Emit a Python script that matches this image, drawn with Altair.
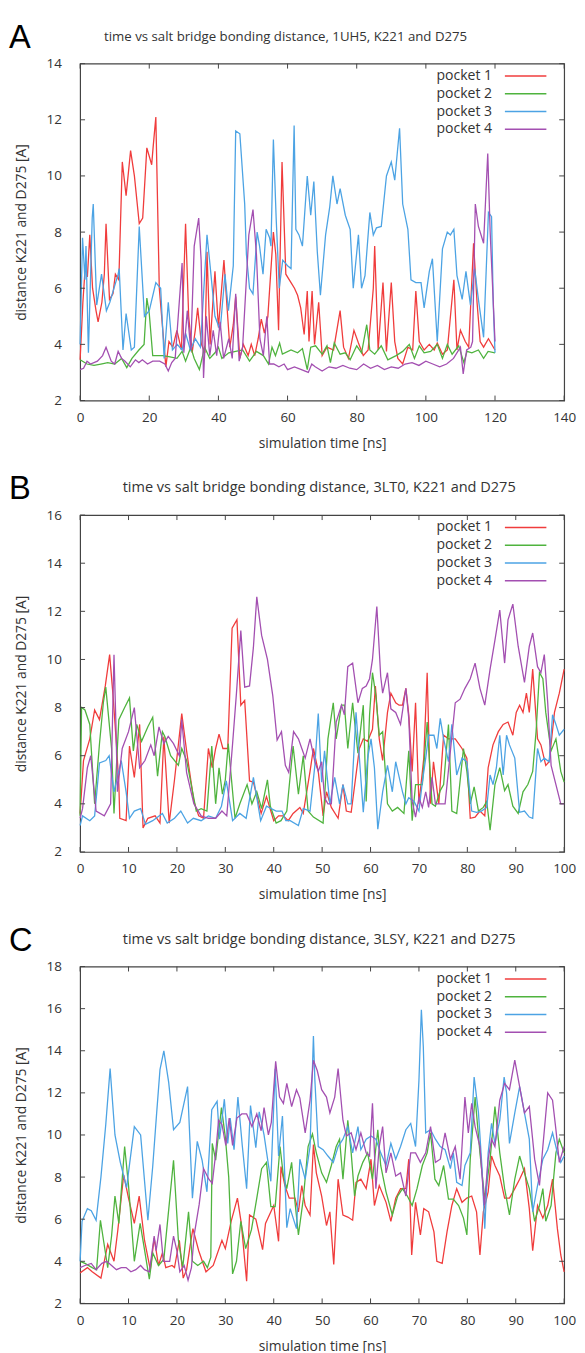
import altair as alt
import pandas as pd

SERIES = ["pocket 1", "pocket 2", "pocket 3", "pocket 4"]
COLORS = ["#f03c3c", "#4fb33e", "#4ca3e4", "#a34fb1"]
FONT = "Open Sans"
TXT = "#333333"
W, H = 490, 341

# ---------------- Panel A : 1UH5 ----------------
A_TITLE = "time vs salt bridge bonding distance, 1UH5, K221 and D275"
A_XTICKS = [0, 20, 40, 60, 80, 100, 120, 140]
A_YTICKS = [2, 4, 6, 8, 10, 12, 14]
A_P1 = [(0,3.45),(0.8,5.5),(1.5,6.8),(2.1,6.4),(2.8,7.9),(3.6,6.0),(4.6,5.2),(5.2,4.8),(6.3,5.5),(7,6.5),(7.5,8.3),(8.5,5.6),(9.5,5.8),(10.2,6.5),(11.2,6.3),(12.2,10.5),(13.3,9.3),(14.6,10.9),(15.7,10.0),(17.1,8.3),(18.1,8.5),(19.3,11.0),(20.7,10.4),(21.1,11.0),(21.9,12.1),(22.9,6.0),(24.8,3.2),(25.7,4.1),(26.8,3.9),(28,4.5),(29.3,3.8),(30.5,8.3),(31.4,5.0),(32.4,3.7),(33.3,4.5),(34,5.3),(35.1,4.0),(36.1,3.7),(36.7,7.3),(37.6,4.0),(39,6.6),(40,4.6),(41.6,7.0),(42.4,5.5),(43.3,3.9),(44.3,4.7),(45,5.7),(46.2,3.5),(47.2,4.0),(48.6,3.6),(49.5,4.0),(50.5,3.6),(51.5,4.2),(52.4,4.9),(53.3,4.4),(54.3,5.0),(55.9,8.0),(56.6,7.2),(57.4,4.5),(58.4,10.5),(59.5,6.5),(61,6.2),(62,6.0),(62.9,5.75),(63.8,5.3),(64.8,4.35),(65.7,5.9),(66.2,4.1),(67.1,5.9),(67.8,4.0),(69,5.5),(70,3.6),(71.4,3.9),(73.3,3.8),(75.2,5.2),(76.2,3.9),(77.6,3.5),(79.2,4.5),(80.5,4.05),(81.9,3.6),(83.3,3.8),(84.8,6.0),(85.2,7.5),(86.2,3.8),(87.6,6.2),(88.6,3.75),(90,6.2),(91,4.1),(91.9,3.5),(93.3,3.3),(94.8,3.9),(96.2,3.8),(97.1,5.9),(98.1,4.1),(99.5,3.8),(101,4.0),(102.4,3.8),(103.3,4.05),(104.8,3.65),(106.2,3.8),(108.1,6.3),(109,3.8),(110,4.5),(111.4,4.1),(112.4,3.9),(113.8,7.6),(114.8,5.5),(115.7,4.1),(116.7,3.9),(118.1,4.2),(120,3.8)]
A_P2 = [(0,3.45),(2,3.3),(4,3.25),(6,3.3),(8,3.35),(10,3.3),(12,3.5),(13.5,3.17),(15,3.5),(17,3.8),(18.5,4.0),(19.3,5.65),(20,5.1),(21,3.6),(24,3.6),(26,3.55),(28,3.5),(29.5,3.75),(30.5,3.4),(32,3.9),(33,3.5),(34.5,3.1),(36,3.9),(37.5,3.5),(39,3.7),(40,3.9),(41,3.5),(43,3.7),(45,3.75),(47,3.8),(49,3.4),(51,3.75),(53,3.6),(54.5,3.3),(55.5,3.9),(56.5,3.6),(57.7,4.05),(58.5,3.65),(61,3.8),(62.9,3.7),(64.3,3.85),(65.7,3.1),(66.7,3.9),(68.1,3.95),(70,3.65),(71.4,3.95),(72.4,3.35),(73.5,4.05),(75.2,3.65),(76.7,3.7),(78.1,3.45),(80,3.95),(81.4,3.7),(82.9,4.7),(83.8,3.8),(85.2,3.65),(87.1,3.95),(89,3.45),(91.4,3.6),(93.3,3.75),(95.2,4.0),(96.7,3.5),(98.1,3.95),(99.5,3.7),(101.4,3.75),(103.3,4.0),(104.8,3.5),(106.2,4.0),(107.6,3.65),(109.5,3.95),(111,3.35),(111.9,3.75),(113.3,3.7),(115.2,3.8),(116.7,3.5),(118,3.75),(120,3.7)]
A_P3 = [(0,4.0),(0.7,7.8),(1.4,6.3),(1.7,7.5),(2.4,3.7),(3.5,8.5),(3.8,9.0),(4.8,5.4),(6.2,6.5),(7.6,5.2),(8.6,5.5),(11,6.5),(11.3,6.7),(12.4,3.8),(13.3,5.1),(14.8,3.8),(15.7,3.9),(17.1,8.2),(18.6,5.0),(20,5.2),(21.9,6.2),(23.3,6.0),(24.3,3.5),(25.5,5.5),(26.7,3.8),(28.1,4.0),(29.5,3.8),(30.5,4.4),(31.9,3.8),(33.3,4.2),(34.8,3.9),(36.7,7.9),(37.6,6.8),(39,5.0),(40.5,4.5),(41.9,6.5),(42.9,5.2),(44.3,6.8),(45,11.6),(46.2,11.5),(47.6,9.0),(48.1,7.2),(49,6.0),(50,5.8),(51.2,8.0),(51.9,7.5),(52.9,6.5),(53.8,8.1),(54.8,7.8),(55.2,7.5),(55.9,11.3),(56.7,8.5),(57.6,6.0),(58.6,7.0),(60,6.8),(61,6.7),(61.9,11.8),(62.4,8.1),(63.3,7.9),(64.3,7.5),(65.7,10.0),(66.7,8.6),(67.6,9.8),(68.6,7.3),(69.5,5.75),(71,7.9),(72.2,8.9),(73.1,10.0),(74.3,9.0),(75.2,9.55),(76.7,8.6),(78.1,8.1),(79,6.0),(80.5,7.9),(81.4,6.0),(82.4,6.45),(83.8,8.7),(84.8,7.9),(85.7,8.15),(87.1,8.2),(88.6,10.0),(90,10.5),(91,9.85),(92.4,11.7),(93.3,9.0),(94.8,8.1),(95.7,6.3),(97.1,6.2),(98.6,6.2),(99.5,5.3),(101,6.6),(101.9,7.05),(103.3,4.1),(104.8,7.4),(106.2,8.0),(107.1,7.9),(108.1,8.1),(109,6.45),(110.5,5.6),(111.6,6.6),(112.9,5.4),(114.1,6.7),(115.2,5.6),(116.7,4.25),(118.1,8.7),(119,8.55),(119.5,5.4),(120,3.7)]
A_P4 = [(0,3.1),(1,3.15),(2,3.4),(3,3.3),(5,3.4),(6.5,3.6),(7.5,3.9),(9,3.4),(10,3.3),(11,3.75),(12,3.5),(13,3.4),(14.5,3.2),(16,3.45),(17,3.35),(18,3.45),(19.5,3.3),(21,3.4),(23,3.4),(24.5,3.3),(25.5,3.05),(26.5,3.35),(27.5,3.5),(29.5,6.9),(30,3.7),(31,5.2),(32,3.8),(33,7.5),(34.3,8.5),(35,7.0),(35.7,2.8),(36.5,5.0),(37.5,3.6),(38.5,4.5),(39.5,3.6),(40.5,4.8),(41.5,3.5),(43,4.2),(44,3.5),(45,5.8),(46,3.4),(47,3.9),(48.8,7.9),(50,8.8),(51,7.2),(52,4.2),(53,3.6),(54,5.0),(54.8,3.3),(56,3.3),(57.5,3.2),(59,3.3),(60,3.1),(62,3.2),(64,3.1),(66,3.0),(67,3.3),(68,3.2),(70,3.05),(72,3.2),(74,3.15),(76,3.25),(78,3.15),(80,3.1),(82,3.3),(84,3.15),(86,3.25),(88,3.1),(90,3.2),(92,3.15),(94,3.3),(96,3.35),(98,3.25),(100,3.4),(102,3.3),(104,3.2),(106,3.3),(108,3.5),(110,3.9),(110.8,2.95),(111.8,3.8),(113,3.9),(113.5,4.1),(114.3,9.0),(115.2,8.2),(116.7,7.6),(117.9,10.8),(118.6,8.0),(120,4.1)]

# ---------------- Panel B : 3LT0 ----------------
B_TITLE = "time vs salt bridge bonding distance, 3LT0, K221 and D275"
B_XTICKS = [0, 10, 20, 30, 40, 50, 60, 70, 80, 90, 100]
B_YTICKS = [2, 4, 6, 8, 10, 12, 14, 16]
B_P1 = [(0,3.6),(0.7,5.8),(2,6.7),(3,7.9),(4,7.5),(5.2,8.9),(6.1,10.2),(6.8,8.5),(7.5,6.5),(8,4.8),(8.2,3.4),(9.5,3.3),(10.2,6.4),(11.2,5.1),(12.3,7.3),(13,3.0),(14,3.4),(15.5,3.5),(16.5,3.2),(17.3,6.8),(18.4,3.2),(19.5,5.0),(21,7.75),(22,6.2),(23.5,4.1),(24.5,3.5),(25.5,3.4),(26.5,6.3),(27.3,5.5),(28,6.3),(28.7,6.9),(29.5,6.3),(30.5,6.3),(31.4,11.3),(32.4,11.65),(33.2,8.1),(34,8.3),(35,4.95),(35.8,4.9),(37.4,3.6),(38.5,4.3),(40,3.3),(41,3.5),(42,3.5),(43,3.3),(44,3.6),(45.4,3.85),(46.1,3.6),(47.5,5.35),(48.2,6.3),(49.2,5.35),(50.2,3.5),(50.9,4.5),(51.9,3.85),(53.3,3.4),(54.3,4.8),(55,3.7),(56,3.65),(57.7,6.3),(58.5,6.7),(59.4,6.6),(60.4,7.1),(61,8.9),(61.8,6.7),(62.5,5.8),(63.5,7.8),(64.2,8.6),(65.2,8.2),(65.9,8.1),(66.6,8.1),(67.3,8.8),(67.9,7.7),(68.6,5.35),(69.3,8.2),(70,4.0),(71,5.9),(71.7,9.45),(72.4,4.0),(73,5.75),(74.1,4.0),(75.1,6.85),(76.1,6.7),(77.5,6.7),(78.9,6.3),(79.9,5.9),(80.6,3.4),(81.6,3.45),(82.6,3.7),(83.6,3.5),(84.3,5.5),(85.3,6.45),(86.4,7.0),(87.4,7.3),(88.4,7.4),(89.4,6.85),(90.1,7.8),(90.8,8.1),(91.5,7.8),(92.2,8.6),(92.8,7.8),(93.5,9.6),(94.5,6.7),(95.2,6.45),(96.2,5.6),(96.9,5.75),(98,7.8),(99,8.6),(100,9.6)]
B_P2 = [(0,3.5),(0.3,8.0),(1,7.9),(2,7.3),(3,4.0),(4,6.5),(4.8,8.2),(5.3,8.85),(6.5,6.3),(7,3.6),(8,7.5),(9.2,8.0),(10.2,8.4),(11,6.2),(11.7,7.3),(12.7,6.6),(14,7.2),(15,7.6),(16,5.15),(17,7.0),(17.5,6.8),(18.7,6.0),(20.3,5.6),(21,6.3),(22,5.8),(24,3.7),(25,3.8),(26.2,3.7),(27.2,6.4),(28,4.0),(28.7,5.5),(29.4,4.4),(30,5.0),(30.6,6.5),(32,3.4),(33,4.0),(34.5,4.8),(35.5,4.0),(36.5,4.5),(37.5,3.8),(38.7,5.0),(39.3,3.9),(40.5,3.2),(41.5,3.3),(42.7,3.7),(44,6.4),(45.1,4.4),(46.1,6.0),(47.1,3.7),(48.2,3.45),(50.2,3.2),(51.2,6.7),(52.3,8.2),(52.9,6.7),(54,8.1),(54.6,8.1),(55.3,6.3),(56.3,8.2),(57.4,6.1),(58.5,8.1),(59.1,4.1),(59.8,7.7),(60.4,9.45),(61.1,8.5),(61.8,6.85),(62.5,7.0),(63.5,4.0),(64.5,3.7),(65.6,3.85),(66.9,3.6),(67.9,6.2),(68.6,3.3),(69.3,4.8),(70.7,4.8),(71.7,7.4),(72.7,4.0),(73.4,3.9),(74.4,4.55),(75.1,4.8),(76.1,7.3),(76.8,3.7),(77.8,3.6),(79.2,6.3),(79.9,5.35),(80.6,4.0),(81.4,4.7),(82.3,3.7),(83.3,3.85),(84,4.1),(84.7,2.9),(85.7,4.8),(86.7,5.5),(87.7,4.55),(88.4,4.8),(89.4,3.9),(90.5,3.6),(91.5,4.5),(92.5,4.8),(93.5,5.35),(94.2,7.0),(94.9,9.45),(95.6,9.2),(96.2,7.8),(97.3,6.2),(98.3,6.7),(99.3,5.35),(100,4.9)]
B_P3 = [(0,3.1),(0.5,3.5),(2,3.3),(3,3.5),(4,5.7),(5.3,5.8),(6,6.0),(7,4.5),(7.8,5.2),(8.5,5.8),(9.5,4.5),(10.2,3.4),(11.2,3.7),(12.5,3.8),(13.5,3.15),(15,3.3),(17,3.6),(18,3.2),(19.5,3.4),(20.8,3.7),(22.2,3.2),(23.4,3.4),(25,3.3),(26.5,3.5),(28,3.4),(29.2,3.9),(30.2,4.95),(31.5,3.3),(33,3.6),(34.3,3.4),(35.8,5.1),(37.3,3.3),(38.5,3.9),(40.5,3.7),(41.7,3.7),(42.5,3.3),(43.4,3.3),(45.1,3.1),(46.1,3.8),(47.5,3.7),(48.5,5.6),(49.2,7.75),(49.9,4.9),(50.5,6.2),(51.6,4.0),(52.6,5.1),(53.6,4.0),(54.3,4.8),(55.3,4.0),(56,4.0),(57,7.8),(57.7,5.9),(58.5,3.65),(59.4,5.9),(60.1,6.7),(60.8,5.5),(61.5,2.95),(62.5,4.5),(63.5,5.6),(64.5,4.5),(65.2,5.75),(66.6,4.5),(67.3,4.0),(67.9,4.25),(69,4.1),(70,3.7),(70.7,4.9),(71.4,5.9),(72,6.85),(73.1,6.85),(73.7,6.3),(74.4,7.55),(75.1,6.7),(76.1,5.75),(76.8,7.3),(77.8,5.2),(78.9,5.9),(79.9,5.75),(80.9,3.7),(81.9,3.65),(82.9,3.7),(84,3.85),(84.7,5.2),(85.3,4.8),(86,5.5),(86.7,6.85),(87.4,5.2),(88.1,6.85),(88.7,6.45),(89.8,5.9),(90.8,3.65),(91.8,3.7),(92.8,3.45),(93.5,3.4),(94.5,6.3),(95.2,5.75),(95.9,5.9),(96.9,5.75),(97.6,7.7),(98.3,7.3),(99,6.85),(100,7.1)]
B_P4 = [(0,3.4),(0.5,3.8),(1.5,5.5),(2.2,6.0),(3.3,3.7),(5,3.5),(6.3,4.0),(7,10.2),(7.4,7.3),(7.7,4.5),(8.7,6.3),(10,7.0),(11.2,8.0),(12.3,5.5),(13.4,5.8),(14.6,6.45),(15.3,6.0),(16.3,7.2),(17.3,6.5),(18.2,6.8),(19.3,6.5),(20.5,6.0),(21,7.5),(22,5.3),(23.5,4.0),(25,3.5),(26.5,3.4),(28,3.4),(29.3,3.7),(30.3,3.5),(31.5,6.5),(32.3,8.6),(33.2,11.2),(34,8.85),(35,8.9),(35.8,10.5),(36.5,12.6),(37.5,11.0),(38.7,10.0),(39.8,8.5),(40.7,6.65),(41.6,7.0),(42.4,5.6),(43.1,5.3),(44.1,7.0),(45.1,6.7),(45.8,6.3),(46.5,5.9),(47.5,6.7),(48.5,5.75),(49.2,5.35),(49.9,5.75),(50.5,4.25),(51.2,4.0),(51.9,4.0),(52.9,7.4),(54,8.1),(54.6,7.7),(55.3,9.7),(56.3,9.85),(57.4,8.2),(58.3,8.8),(59.1,8.9),(59.8,9.2),(60.4,10.0),(61.3,12.2),(62.1,9.3),(62.5,8.6),(63.5,9.45),(64.2,7.95),(65.2,7.8),(66.2,7.3),(67.3,8.8),(67.9,7.55),(68.6,4.1),(69.3,3.45),(70,4.25),(70.7,3.85),(71.4,4.5),(72,3.85),(72.7,5.1),(73.4,4.0),(74.4,4.0),(75.4,4.0),(76.5,6.2),(77.5,8.2),(78.5,8.35),(79.5,8.8),(80.6,9.2),(81.6,9.85),(82.6,8.8),(83.6,8.1),(84.7,9.6),(85.7,10.8),(86.7,12.05),(87.7,9.85),(88.4,11.65),(89.4,12.3),(90.5,10.55),(91.8,9.05),(92.8,10.55),(93.5,11.1),(94.5,9.7),(95.2,9.45),(95.9,10.2),(96.6,8.2),(97.3,5.6),(98.3,4.8),(99.3,4.0),(100,4.0)]

# ---------------- Panel C : 3LSY ----------------
C_TITLE = "time vs salt bridge bonding distance, 3LSY, K221 and D275"
C_XTICKS = [0, 10, 20, 30, 40, 50, 60, 70, 80, 90, 100]
C_YTICKS = [2, 4, 6, 8, 10, 12, 14, 16, 18]
C_P1 = [(0,3.45),(1.5,3.7),(2.5,3.5),(4.3,3.2),(5.7,4.8),(7,4.0),(7.8,5.5),(9,8.1),(10,7.0),(11.2,5.8),(12.2,7.1),(13.3,5.0),(14.5,3.6),(15.3,5.1),(16.2,3.8),(17,4.4),(17.7,3.7),(19,3.8),(19.5,3.7),(20.5,5.0),(21.3,3.2),(22,3.6),(22.7,4.7),(23.3,5.55),(24.5,4.5),(26,3.5),(27.5,3.8),(29.3,5.0),(30,4.6),(31.2,5.9),(32.5,7.0),(33.3,5.8),(34.4,3.05),(35,6.2),(36.3,6.0),(37.7,4.55),(38.3,5.8),(40,6.65),(41,4.95),(41.5,8.5),(42.3,7.6),(43.2,7.0),(44.4,7.0),(45.1,6.35),(45.8,7.6),(46.5,6.65),(47.5,6.2),(48.2,9.55),(48.8,8.2),(49.9,7.1),(50.9,5.7),(51.6,6.35),(52.4,3.85),(53.3,7.9),(54.3,6.2),(55.3,6.1),(56.3,5.95),(57,7.75),(58,7.9),(59.1,7.45),(60.1,8.85),(60.8,6.65),(61.8,7.6),(63.2,6.8),(64.2,5.9),(65.2,7.0),(66.2,7.45),(67.3,7.45),(67.9,8.85),(68.5,4.3),(69.3,6.8),(70.3,5.25),(71,6.5),(72,6.35),(73.1,5.4),(73.7,4.0),(74.8,3.9),(75.8,5.4),(76.8,6.65),(77.8,7.45),(78.9,6.8),(79.9,7.0),(80.9,7.1),(81.9,6.35),(82.6,4.3),(83.3,6.35),(84.3,7.3),(85,9.0),(85.7,8.55),(86.7,8.05),(87.7,7.0),(88.7,7.0),(89.8,7.45),(90.8,7.9),(91.8,8.4),(92.8,6.5),(93.5,4.5),(94.5,6.65),(95.6,6.05),(96.6,6.65),(97.6,7.9),(98.6,5.55),(99.3,4.3),(100,3.5)]
C_P2 = [(0,4.0),(1,3.9),(2.5,3.7),(3.4,3.6),(4.2,5.95),(5.3,4.3),(5.7,3.7),(6.5,5.2),(7.2,7.1),(8,5.8),(9.2,9.45),(10,7.6),(11.2,4.0),(12.4,5.8),(13.2,4.7),(14.3,3.15),(15,4.4),(16.2,3.8),(17.3,4.1),(19.3,8.8),(20.3,5.0),(21.2,3.7),(22.4,6.35),(23.2,4.0),(24.3,3.8),(25.5,4.0),(26.3,3.7),(27,4.2),(27.3,9.6),(28,8.8),(29.2,11.3),(30,9.9),(30.7,8.0),(31.5,3.4),(32.3,4.0),(33.2,5.9),(34.2,4.6),(35.4,5.5),(36.5,7.0),(37.5,8.4),(38.5,8.7),(39.4,6.6),(40.3,6.6),(41.3,9.45),(42,8.05),(42.7,7.45),(43.7,8.7),(44.4,6.8),(45.1,5.25),(46.1,6.95),(47.1,9.45),(48,10.05),(48.8,9.15),(49.9,8.2),(50.9,7.75),(51.9,8.55),(52.9,9.45),(53.6,9.8),(54.3,7.9),(55.3,10.7),(56,9.15),(56.7,7.1),(57.4,8.05),(58.4,8.7),(59.4,9.15),(60.4,7.9),(61.5,10.25),(62.1,8.55),(63.2,7.3),(64.5,6.2),(65.6,7.1),(66.6,7.45),(67.6,7.1),(68.6,6.65),(69.6,7.45),(70.7,8.55),(71.7,9.15),(72.4,10.1),(73.3,7.9),(74.1,7.6),(75.1,8.55),(76.1,6.95),(77.1,6.95),(78.2,6.65),(79.2,6.05),(79.9,5.25),(80.6,8.85),(81.6,11.8),(82.6,9.15),(83.6,6.95),(84.7,8.85),(85.7,11.35),(86.7,9.15),(87.7,7.45),(88.7,6.2),(89.8,7.9),(90.8,9.0),(91.8,8.2),(92.8,7.45),(93.9,5.9),(94.9,6.65),(95.6,7.45),(96.2,5.9),(97.3,6.65),(98.3,9.15),(99,9.8),(100,9.15)]
C_P3 = [(0,4.0),(0.4,5.9),(1.5,6.5),(2.3,6.4),(3.3,5.95),(4.3,8.0),(5.3,10.5),(6.2,13.15),(7.2,10.0),(8.3,8.7),(9.6,7.5),(11.2,10.4),(12.5,10.0),(14,5.95),(15,8.5),(15.8,11.0),(16.5,13.1),(17.3,14.0),(18.3,12.5),(19.3,10.25),(20.6,10.6),(22.2,12.3),(23.2,7.0),(24.2,9.7),(25.2,8.8),(26.2,7.3),(27.2,11.2),(28.3,11.6),(28.8,9.8),(29.8,11.7),(30.5,9.6),(31,10.8),(31.8,9.3),(32.6,11.8),(33.5,9.5),(34.4,7.45),(35.2,11.4),(36.3,9.4),(37,11.1),(38,10.0),(39.4,7.8),(40.3,13.15),(41,9.0),(41.8,10.9),(42.7,5.6),(43.4,6.5),(44.7,5.55),(45.4,8.85),(46.5,7.9),(47.5,9.45),(48.2,14.7),(48.5,12.6),(49.2,9.45),(50.2,9.3),(51.2,9.0),(52.3,8.7),(53.3,9.45),(54.3,9.8),(55.3,10.4),(56.3,9.15),(57.4,10.4),(58,9.3),(59.1,9.8),(60.1,9.95),(61.1,9.8),(62.1,9.15),(63.2,8.55),(64.2,9.6),(65.2,8.85),(66.2,9.45),(67.3,10.25),(68.3,10.55),(69.3,9.45),(70,12.6),(70.5,15.95),(70.9,14.2),(71.4,10.1),(72.4,10.25),(73.4,9.8),(74.4,9.45),(75.4,9.3),(76.5,8.4),(77.1,9.15),(77.8,7.75),(78.9,7.6),(79.5,8.55),(80.6,9.15),(81.4,12.75),(82.3,11.05),(83,8.55),(83.6,5.55),(84.3,9.15),(85,10.55),(85.7,9.6),(86.7,10.7),(87.6,12.75),(88.1,12.0),(88.7,9.6),(89.8,11.05),(90.8,12.3),(91.8,11.05),(92.8,9.8),(93.5,6.35),(94.5,7.6),(95.6,8.85),(96.6,9.3),(97.6,10.1),(98.6,9.15),(99.3,8.7),(100,9.0)]
C_P4 = [(0,3.7),(1,3.8),(2.3,3.9),(3.3,3.6),(4.5,3.9),(5.5,4.0),(6.5,3.8),(7.5,3.6),(8.5,3.7),(9.5,3.7),(10.5,3.5),(11.5,3.6),(12.5,3.8),(13.3,3.6),(14.3,3.5),(15.3,5.2),(15.7,4.5),(16.5,5.75),(17.2,4.0),(18.5,4.0),(19.3,5.2),(20,4.5),(20.6,3.5),(21.5,3.8),(22.3,3.1),(23,3.7),(23.6,5.3),(24.6,6.7),(25.5,8.4),(26.6,7.9),(27.3,7.7),(28,9.1),(28.6,10.7),(29.3,10.5),(30.1,9.5),(30.8,10.8),(31.5,9.5),(32.4,10.8),(33.4,11.0),(34.4,11.0),(35.5,10.4),(36.5,11.0),(37.4,10.2),(38,11.3),(38.9,10.0),(39.5,10.6),(40.4,13.5),(41.2,11.8),(42,11.5),(42.7,12.45),(43.7,11.35),(44.7,12.15),(45.4,11.75),(46.5,10.1),(47.5,11.65),(48.2,13.55),(49,13.05),(49.9,12.15),(50.9,11.8),(51.6,11.05),(52.6,11.8),(53.3,13.15),(54.3,10.7),(55,9.95),(56,10.1),(57,9.3),(58,10.1),(59.1,9.15),(59.8,9.0),(60.4,11.5),(61.1,7.45),(61.8,9.45),(62.5,10.4),(63.2,8.2),(64.2,9.15),(65.2,8.05),(66.2,8.2),(67.3,7.1),(68.3,9.15),(69.3,9.15),(70.3,8.7),(71.4,9.15),(72.4,10.4),(73.4,8.7),(74.4,8.85),(75.4,10.1),(76.5,8.85),(77.5,9.45),(78.5,7.9),(79.5,11.8),(80.2,10.1),(80.9,11.5),(81.6,10.4),(82.6,9.45),(83.5,6.65),(84.3,8.85),(85,9.8),(85.7,9.45),(86.7,11.65),(87.7,12.45),(88.7,12.15),(89.8,13.55),(90.8,12.3),(91.8,11.05),(92.8,11.35),(93.9,8.85),(94.9,7.6),(95.6,9.45),(96.6,12.0),(97.6,11.65),(98.3,10.25),(99,8.7),(100,9.45)]

X_TITLE = "simulation time [ns]"
Y_TITLE = "distance K221 and D275 [A]"
LEGEND_RANK = [0, 1, 2, 3]


def panel(letter, title, series, xticks, yticks, title_x, title_size):
    rows = []
    for name, pairs in zip(SERIES, series):
        for t, d in pairs:
            rows.append({"series": name, "t": t, "d": d})
    df = pd.DataFrame(rows)
    xs = alt.Scale(domain=[xticks[0], xticks[-1]], nice=False, zero=False)
    ys = alt.Scale(domain=[yticks[0], yticks[-1]], nice=False, zero=False)
    cs = alt.Scale(domain=SERIES, range=COLORS)
    xaxis = alt.Axis(values=xticks, title=X_TITLE, grid=False, ticks=False, domain=False,
                     labelPadding=10, titlePadding=13, labelFlush=False)
    yaxis = alt.Axis(values=yticks, title=Y_TITLE, grid=False, ticks=False, domain=False,
                     labelPadding=19, titlePadding=18, labelFlush=False)
    X = alt.X("t:Q", scale=xs, axis=xaxis)
    Y = alt.Y("d:Q", scale=ys, axis=yaxis)

    lines = alt.Chart(df).mark_line(strokeWidth=1.3).encode(
        x=X, y=Y, color=alt.Color("series:N", scale=cs, legend=None))
    xdf = pd.DataFrame({"t": xticks})
    ydf = pd.DataFrame({"d": yticks})
    tick_style = dict(color="#444444", strokeWidth=1)
    bottom = alt.Chart(xdf).mark_rule(**tick_style).encode(
        x=X, y=alt.value(H), y2=alt.value(H - 5))
    top = alt.Chart(xdf).mark_rule(**tick_style).encode(
        x=X, y=alt.value(0), y2=alt.value(5))
    left = alt.Chart(ydf).mark_rule(**tick_style).encode(
        y=Y, x=alt.value(0), x2=alt.value(5))
    right = alt.Chart(ydf).mark_rule(**tick_style).encode(
        y=Y, x=alt.value(W), x2=alt.value(W - 5))
    plot = alt.layer(lines, bottom, top, left, right)

    # key drawn in gnuplot style: label right-aligned, line sample to its right
    leg = pd.DataFrame({"series": SERIES, "rank": LEGEND_RANK})
    ly = alt.Y("rank:Q", scale=alt.Scale(domain=[0, 3], range=[12.5, 66.5]), axis=None)
    key_lines = alt.Chart(leg).mark_rule(strokeWidth=1.5).encode(
        x=alt.value(430), x2=alt.value(472), y=ly,
        color=alt.Color("series:N", scale=cs, legend=None))
    key_text = alt.Chart(leg).mark_text(
        align="right", baseline="middle", font=FONT, fontSize=14.2, color=TXT
    ).encode(x=alt.value(417), y=ly, text="series:N")

    lab = alt.Chart(pd.DataFrame({"s": [letter]})).mark_text(
        font="Liberation Sans", fontSize=33, align="left", baseline="alphabetic",
        color="black").encode(text="s:N", x=alt.value(-72), y=alt.value(-16))
    ttl = alt.Chart(pd.DataFrame({"s": [title]})).mark_text(
        font=FONT, fontSize=title_size, align="center", baseline="middle",
        color=TXT).encode(text="s:N", x=alt.value(title_x), y=alt.value(-27))

    return alt.layer(plot, key_lines, key_text, lab, ttl).resolve_scale(
        y="independent").properties(width=W, height=H)


pa = panel("A", A_TITLE, [A_P1, A_P2, A_P3, A_P4], A_XTICKS, A_YTICKS, 208, 13.4)
pb = panel("B", B_TITLE, [B_P1, B_P2, B_P3, B_P4], B_XTICKS, B_YTICKS, 242, 14.7)
pc = panel("C", C_TITLE, [C_P1, C_P2, C_P3, C_P4], C_XTICKS, C_YTICKS, 242, 14.7)

chart = alt.vconcat(pa, pb, pc, spacing=21).resolve_scale(
    color="independent", x="independent", y="independent"
).properties(
    padding={"left": 0, "top": 5, "right": 0, "bottom": 0}, background="white"
).configure_view(stroke="#444444", strokeWidth=1.2).configure_axis(
    labelFont=FONT, labelFontSize=13.6, labelColor=TXT,
    titleFont=FONT, titleFontSize=14, titleColor=TXT, titleFontWeight="normal"
)

chart.save("out.html", embed_options={"renderer": "svg", "actions": False})
